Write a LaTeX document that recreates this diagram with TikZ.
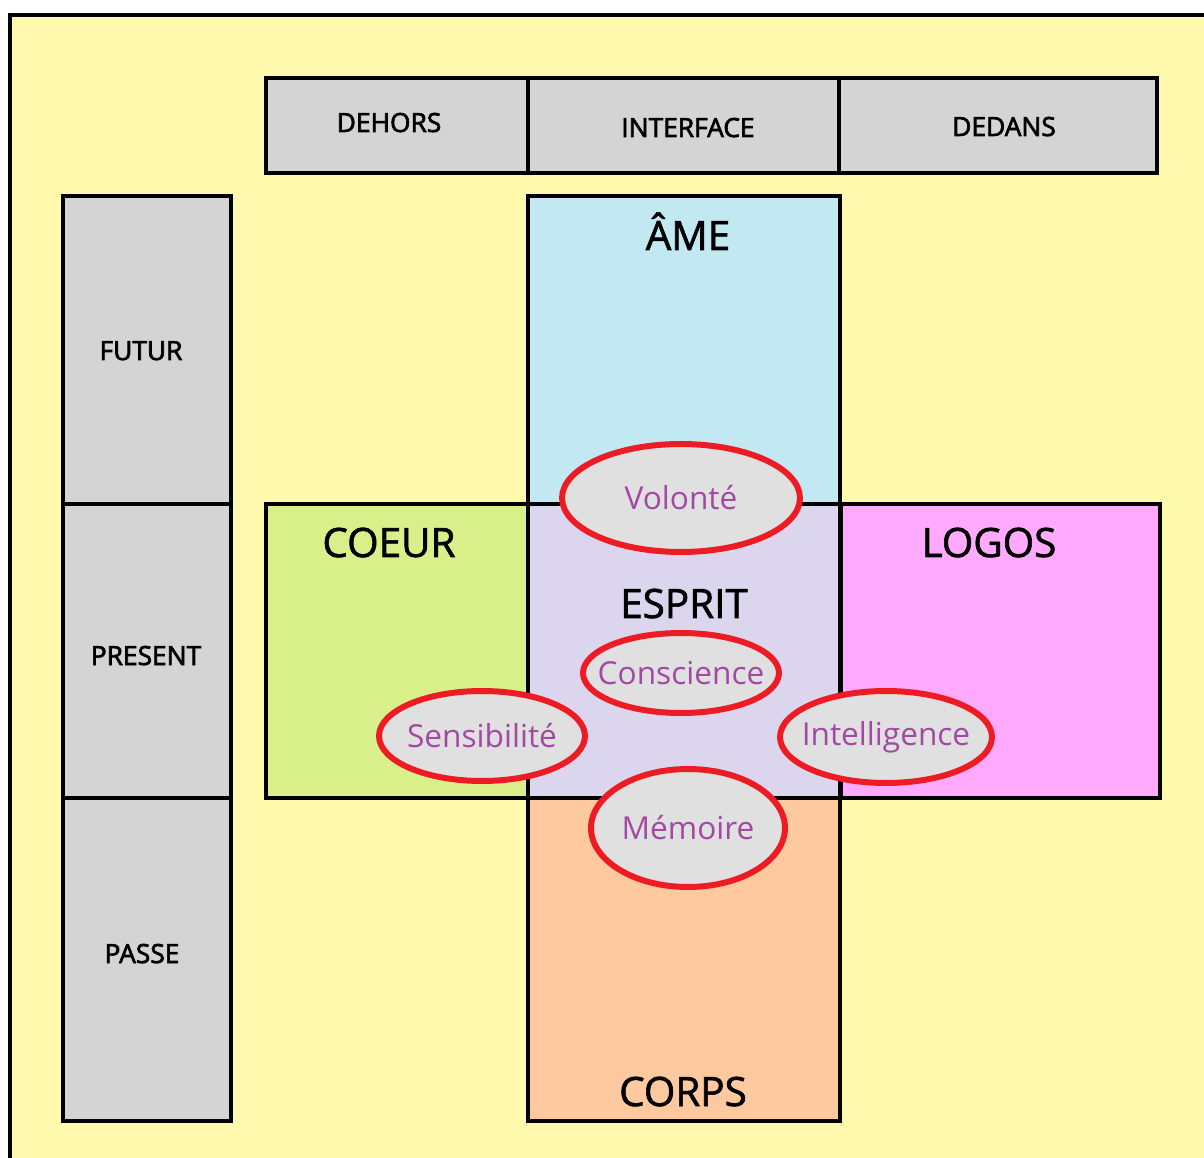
\documentclass[tikz,border=0pt]{standalone}
\usepackage{fontspec}
\setmainfont{Open Sans}
\newfontfamily\grasfont{Open Sans}[FakeBold=2.5]
\newfontfamily\demifont{Open Sans}[FakeBold=1.5]
\usepackage{tikz}
\usetikzlibrary{shapes.geometric,positioning}
\definecolor{fond}{HTML}{FFF9AE}
\definecolor{gris}{HTML}{D4D4D4}
\definecolor{bleu}{HTML}{C2E8F2}
\definecolor{vert}{HTML}{D9F08A}
\definecolor{lilas}{HTML}{DBD5EE}
\definecolor{rose}{HTML}{FFAAFF}
\definecolor{peche}{HTML}{FFC9A0}
\definecolor{rouge}{HTML}{ED1C24}
\definecolor{violet}{HTML}{A349A4}
\tikzstyle{axe}=[draw,line width=2.8pt,fill=gris,rectangle,inner sep=0pt]
\tikzstyle{zone}=[draw,line width=2.8pt,rectangle,inner sep=0pt]
\tikzstyle{titre}=[anchor=base,font=\demifont\fontsize{23}{26}\selectfont]
\tikzstyle{etiq}=[anchor=base,font=\grasfont\fontsize{15}{18}\selectfont]
\tikzstyle{faculte}=[draw=rouge,line width=3.4pt,fill=black!12,ellipse,inner ysep=0pt,
  inner xsep=-40pt,text=violet,font=\fontsize{18}{20}\selectfont]

\begin{document}
\begin{tikzpicture}[x=0.02cm,y=-0.02cm]
\clip (0,0) rectangle (1204,1158);
\draw[line width=2.8pt,fill=fond] (10,15) rectangle (1240,1200);

% temps et lieux
\node [axe,minimum width=5.24cm,minimum height=1.9cm] (dehors) at (397,125.5) {};
\node [axe,minimum width=6.22cm,minimum height=1.9cm] (interface) at (683.5,125.5) {};
\node [axe,minimum width=6.36cm,minimum height=1.9cm] (dedans) at (998,125.5) {};
\node [axe,minimum width=3.36cm,minimum height=6.16cm] (futur) at (147,350) {};
\node [axe,minimum width=3.36cm,minimum height=5.88cm] (present) at (147,651) {};
\node [axe,minimum width=3.36cm,minimum height=6.46cm] (passe) at (147,959.5) {};
\node [etiq] at (389,132) {DEHORS};
\node [etiq] at (688,137) {INTERFACE};
\node [etiq] at (1004,136) {DEDANS};
\node [etiq] at (141,360) {FUTUR};
\node [etiq] at (146,665) {PRESENT};
\node [etiq] at (142,963) {PASSE};

% la croix
\node [zone,fill=bleu,minimum width=6.24cm,minimum height=6.16cm] (ame) at (684,350) {};
\node [zone,fill=peche,minimum width=6.24cm,minimum height=6.46cm] (corps) at (684,959.5) {};
\node [zone,fill=vert,minimum width=5.24cm,minimum height=5.88cm] (coeur) at (397,651) {};
\node [zone,fill=rose,minimum width=6.4cm,minimum height=5.88cm] (logos) at (1000,651) {};
\node [zone,fill=lilas,minimum width=6.24cm,minimum height=5.88cm] (esprit) at (684,651) {};
\node [titre] at (688,250) {ÂME};
\node [titre] at (389,557) {COEUR};
\node [titre] at (684,618) {ESPRIT};
\node [titre] at (989,557) {LOGOS};
\node [titre] at (683,1106) {CORPS};

% facultes
\node [faculte,minimum width=4.76cm,minimum height=2.16cm] (volonte) at (681,498) {Volonté};
\node [faculte,minimum width=3.92cm,minimum height=1.6cm] (conscience) at (681,673) {Conscience};
\node [faculte,minimum width=4.12cm,minimum height=1.8cm] (sensibilite) at (482,736) {Sensibilité};
\node [faculte,minimum width=4.24cm,minimum height=1.84cm] (intelligence) at (886,737) {Intelligence};
\node [faculte,minimum width=3.88cm,minimum height=2.36cm] (memoire) at (688,828) {Mémoire};
\end{tikzpicture}
\end{document}
